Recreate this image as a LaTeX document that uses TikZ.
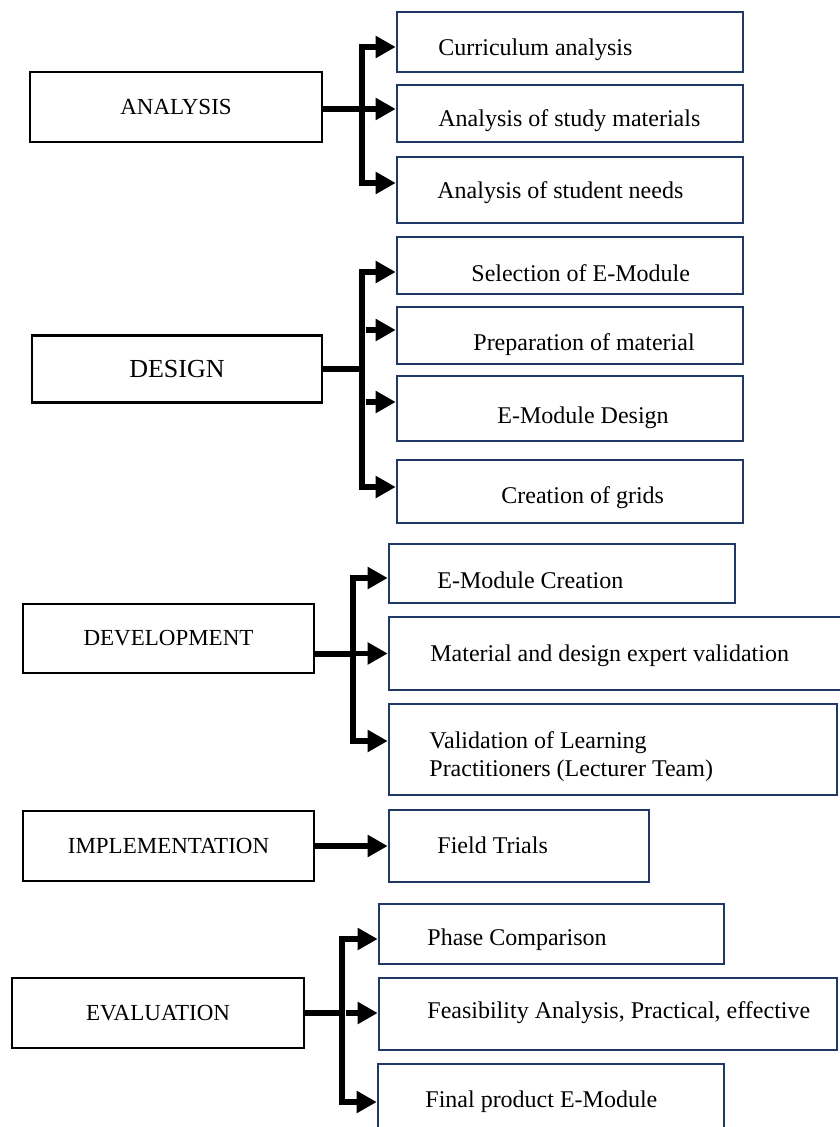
\documentclass[tikz,border=0pt]{standalone}
\usepackage{fontspec}
\setmainfont{Liberation Serif}
\usepackage{xcolor}
\usetikzlibrary{arrows.meta, positioning}
\definecolor{boxblue}{HTML}{1F3864}
\tikzset{
  phase/.style={draw=black, line width=1.3pt, minimum width=146pt, minimum height=35pt, inner sep=0pt, font=\fontsize{11.5}{14}\selectfont},
  task/.style={draw=boxblue, line width=1.3pt, inner sep=0pt, minimum width=173pt},
  tasktext/.style={anchor=base west, inner sep=0pt, font=\fontsize{12}{14}\selectfont},
  bar/.style={line width=2.8pt},
  conn/.style={bar, -{Triangle[length=10pt,width=10.5pt]}}
}
\begin{document}
\begin{tikzpicture}[x=0.5pt, y=-0.5pt]
\useasboundingbox (0,0) rectangle (839,1127);

\node[phase] (ana) at (176,107) {ANALYSIS};
\node[task, minimum height=30pt] (ana1) at (570,42) {};
\node[task, minimum height=28.5pt] (ana2) at (570,113.5) {};
\node[task, minimum height=33pt] (ana3) at (570,190) {};
\node[tasktext] (ana1t) at (438,56) {Curriculum analysis};
\node[tasktext] (ana2t) at (438,127) {Analysis of study materials};
\node[tasktext] (ana3t) at (437,199) {Analysis of student needs};
\coordinate (anaj) at (362,109);
\draw[bar] (ana.east |- anaj) -- (anaj);
\draw[conn] (anaj) |- ([yshift=-2.5pt]ana1.west);
\draw[conn] (anaj) |- ([yshift=3.5pt]ana3.west);
\draw[conn] ([xshift=-15.5pt, yshift=2.25pt]ana2.west) -- ([yshift=2.25pt]ana2.west);

\node[phase, minimum width=145pt, minimum height=33.5pt, font=\fontsize{13}{15}\selectfont] (des) at (177,369) {DESIGN};
\node[task, minimum height=28.5pt] (des1) at (570,265.5) {};
\node[task, minimum height=28.5pt] (des2) at (570,335.5) {};
\node[task, minimum height=32.5pt] (des3) at (570,408.5) {};
\node[task, minimum height=31.5pt] (des4) at (570,491.5) {};
\node[tasktext] (des1t) at (471,282) {Selection of E-Module};
\node[tasktext] (des2t) at (473,351) {Preparation of material};
\node[tasktext] (des3t) at (497,424) {E-Module Design};
\node[tasktext] (des4t) at (501,503) {Creation of grids};
\coordinate (desj) at (362,369);
\draw[bar] (des.east |- desj) -- (desj);
\draw[conn] (desj) |- ([yshift=-3.25pt]des1.west);
\draw[conn] (desj) |- ([yshift=2.25pt]des4.west);
\draw[conn] ([xshift=-15pt, yshift=2.75pt]des2.west) -- ([yshift=2.75pt]des2.west);
\draw[conn] ([xshift=-15pt, yshift=3.25pt]des3.west) -- ([yshift=3.25pt]des3.west);

\node[phase, minimum width=145.5pt, minimum height=34.5pt] (dev) at (168.5,638.5) {DEVELOPMENT};
\node[task, minimum height=29.5pt] (dev1) at (562,573.5) {};
\node[task, minimum width=236pt, minimum height=36.5pt] (dev2) at (625,653.5) {};
\node[task, minimum width=224pt, minimum height=45.5pt] (dev3) at (613,749.5) {};
\node[tasktext] (dev1t) at (437,588) {E-Module Creation};
\node[tasktext] (dev2t) at (430,661) {Material and design expert validation};
\node[tasktext, anchor=west, align=left] (dev3t) at (429,757) {Validation of Learning\\Practitioners (Lecturer Team)};
\coordinate (devj) at (353,654);
\draw[bar] (dev.east |- devj) -- (devj);
\draw[conn] (devj) |- ([yshift=-2.25pt]dev1.west);
\draw[conn] (devj) |- ([yshift=4.25pt]dev3.west);
\draw[conn] ([xshift=-16pt]dev2.west) -- (dev2.west);

\node[phase, minimum width=145.5pt] (imp) at (168.5,846) {IMPLEMENTATION};
\node[task, minimum width=130pt, minimum height=36pt] (imp1) at (519,846) {};
\node[tasktext] (imp1t) at (437,853) {Field Trials};
\draw[conn] (imp.east) -- (imp1.west);

\node[phase] (eva) at (158,1013) {EVALUATION};
\node[task, minimum width=172.5pt, minimum height=30pt] (eva1) at (551.5,934) {};
\node[task, minimum width=229pt, minimum height=36pt] (eva2) at (608,1014) {};
\node[task, minimum height=38pt] (eva3) at (551,1102) {};
\node[tasktext] (eva1t) at (427,945) {Phase Comparison};
\node[tasktext] (eva2t) at (427,1018) {Feasibility Analysis, Practical, effective};
\node[tasktext] (eva3t) at (425,1107) {Final product E-Module};
\coordinate (evaj) at (342,1013);
\draw[bar] (eva.east |- evaj) -- (evaj);
\draw[conn] (evaj) |- ([yshift=-2.5pt]eva1.west);
\draw[conn] (evaj) |- (eva3.west);
\draw[conn] ([xshift=-16pt]eva2.west |- evaj) -- (eva2.west |- evaj);
\end{tikzpicture}
\end{document}
